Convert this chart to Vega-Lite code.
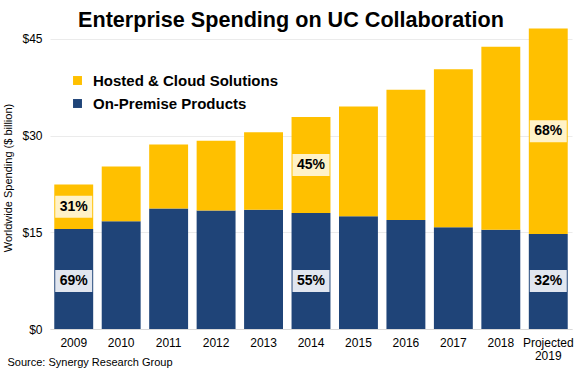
{
  "$schema": "https://vega.github.io/schema/vega-lite/v6.json",
  "width": 522,
  "height": 303,
  "autosize": "none",
  "padding": {"left": 50, "top": 26, "right": 2, "bottom": 43},
  "background": "white",
  "title": {
    "text": "Enterprise Spending on UC Collaboration",
    "font": "Liberation Sans",
    "fontSize": 21.6,
    "fontWeight": "bold",
    "color": "#000000",
    "anchor": "middle",
    "frame": "group",
    "dx": -20,
    "offset": -6
  },
  "config": {
    "view": {"stroke": null},
    "font": "Liberation Sans"
  },
  "data": {
    "values": [
      {"year": "2009", "segment": "On-Premise Products", "value": 15.5, "pct": "69%"},
      {"year": "2009", "segment": "Hosted & Cloud Solutions", "value": 6.9, "pct": "31%"},
      {"year": "2010", "segment": "On-Premise Products", "value": 16.7, "pct": ""},
      {"year": "2010", "segment": "Hosted & Cloud Solutions", "value": 8.5, "pct": ""},
      {"year": "2011", "segment": "On-Premise Products", "value": 18.7, "pct": ""},
      {"year": "2011", "segment": "Hosted & Cloud Solutions", "value": 9.9, "pct": ""},
      {"year": "2012", "segment": "On-Premise Products", "value": 18.4, "pct": ""},
      {"year": "2012", "segment": "Hosted & Cloud Solutions", "value": 10.8, "pct": ""},
      {"year": "2013", "segment": "On-Premise Products", "value": 18.5, "pct": ""},
      {"year": "2013", "segment": "Hosted & Cloud Solutions", "value": 12.0, "pct": ""},
      {"year": "2014", "segment": "On-Premise Products", "value": 18.0, "pct": "55%"},
      {"year": "2014", "segment": "Hosted & Cloud Solutions", "value": 14.9, "pct": "45%"},
      {"year": "2015", "segment": "On-Premise Products", "value": 17.5, "pct": ""},
      {"year": "2015", "segment": "Hosted & Cloud Solutions", "value": 17.0, "pct": ""},
      {"year": "2016", "segment": "On-Premise Products", "value": 16.9, "pct": ""},
      {"year": "2016", "segment": "Hosted & Cloud Solutions", "value": 20.2, "pct": ""},
      {"year": "2017", "segment": "On-Premise Products", "value": 15.8, "pct": ""},
      {"year": "2017", "segment": "Hosted & Cloud Solutions", "value": 24.5, "pct": ""},
      {"year": "2018", "segment": "On-Premise Products", "value": 15.4, "pct": ""},
      {"year": "2018", "segment": "Hosted & Cloud Solutions", "value": 28.4, "pct": ""},
      {"year": "Projected 2019", "segment": "On-Premise Products", "value": 14.75, "pct": "32%"},
      {"year": "Projected 2019", "segment": "Hosted & Cloud Solutions", "value": 31.85, "pct": "68%"}
    ]
  },
  "encoding": {
    "x": {
      "field": "year",
      "type": "nominal",
      "sort": null,
      "scale": {"paddingInner": 0.18, "paddingOuter": 0.09},
      "axis": {
        "title": "Source: Synergy Research Group",
        "titleFont": "Liberation Sans",
        "titleFontSize": 11,
        "titleFontWeight": "normal",
        "titleColor": "#000000",
        "titleAnchor": "start",
        "titleAlign": "left",
        "titleBaseline": "middle",
        "titleX": -43,
        "titleY": 33,
        "labelAngle": 0,
        "labelFont": "Liberation Sans",
        "labelFontSize": 12,
        "labelColor": "#000000",
        "labelPadding": 8,
        "labelLineHeight": 13,
        "labelExpr": "datum.label == 'Projected 2019' ? ['Projected', '2019'] : datum.label",
        "ticks": false,
        "domain": true,
        "domainColor": "#d9d9d9",
        "grid": false
      }
    }
  },
  "layer": [
    {
      "mark": {"type": "bar"},
      "encoding": {
        "y": {
          "field": "value",
          "type": "quantitative",
          "stack": "zero",
          "scale": {"domain": [0, 47], "nice": false},
          "axis": {
            "title": "Worldwide Spending ($ billion)",
            "titleFont": "Liberation Sans",
            "titleFontSize": 11,
            "titleFontWeight": "normal",
            "titleColor": "#000000",
            "titlePadding": 8,
            "values": [0, 15, 30, 45],
            "labelExpr": "'$' + datum.value",
            "labelFont": "Liberation Sans",
            "labelFontSize": 12,
            "labelColor": "#000000",
            "labelPadding": 8,
            "ticks": false,
            "domain": false,
            "grid": true,
            "gridColor": "#ebebeb",
            "gridWidth": 1
          }
        },
        "color": {
          "field": "segment",
          "type": "nominal",
          "scale": {
            "domain": ["Hosted & Cloud Solutions", "On-Premise Products"],
            "range": ["#FFC000", "#1F4478"]
          },
          "legend": {
            "title": null,
            "orient": "none",
            "legendX": 20,
            "legendY": 47,
            "symbolType": "square",
            "symbolSize": 80,
            "symbolStrokeWidth": 0,
            "labelFont": "Liberation Sans",
            "labelFontSize": 15,
            "labelFontWeight": "bold",
            "labelColor": "#000000",
            "labelOffset": 8,
            "labelLimit": 0,
            "rowPadding": 7
          }
        },
        "order": {"field": "segment", "sort": "descending"}
      }
    },
    {
      "transform": [
        {"stack": "value", "groupby": ["year"], "sort": [{"field": "segment", "order": "descending"}], "as": ["v0", "v1"]},
        {"filter": "datum.pct != '' && datum.segment == 'Hosted & Cloud Solutions'"},
        {"calculate": "(datum.v0 + datum.v1) / 2", "as": "mid"}
      ],
      "layer": [
        {
          "mark": {"type": "tick", "thickness": 22, "size": 37, "color": "#FFF2C8", "opacity": 1},
          "encoding": {"y": {"field": "mid", "type": "quantitative"}}
        },
        {
          "mark": {"type": "text", "font": "Liberation Sans", "fontSize": 14, "fontWeight": "bold", "color": "#000000", "baseline": "middle"},
          "encoding": {"y": {"field": "mid", "type": "quantitative"}, "text": {"field": "pct"}}
        }
      ]
    },
    {
      "transform": [
        {"filter": "datum.pct != '' && datum.segment == 'On-Premise Products'"}
      ],
      "layer": [
        {
          "mark": {"type": "tick", "thickness": 22, "size": 37, "color": "#E1E6EF", "opacity": 1},
          "encoding": {"y": {"datum": 7.45, "type": "quantitative"}}
        },
        {
          "mark": {"type": "text", "font": "Liberation Sans", "fontSize": 14, "fontWeight": "bold", "color": "#000000", "baseline": "middle"},
          "encoding": {"y": {"datum": 7.45, "type": "quantitative"}, "text": {"field": "pct"}}
        }
      ]
    }
  ]
}
